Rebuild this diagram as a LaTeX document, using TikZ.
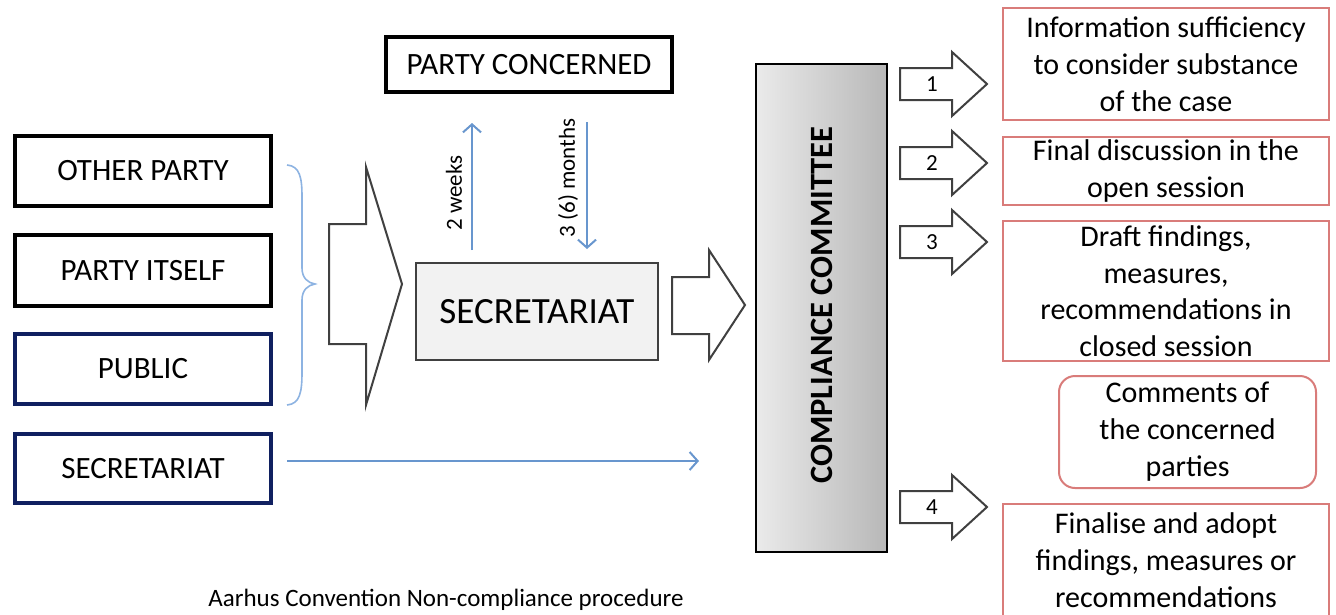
\documentclass[tikz,border=0pt]{standalone}
\usepackage{fontspec}
\setmainfont{Carlito}
\usetikzlibrary{arrows.meta,calc}
\definecolor{navy}{RGB}{16,32,96}
\definecolor{lblue}{RGB}{104,150,206}
\definecolor{bracecol}{RGB}{141,179,226}
\definecolor{redline}{RGB}{217,124,122}
\definecolor{arrgray}{RGB}{64,64,64}
\begin{document}
\begin{tikzpicture}[x=1pt,y=-1pt,
  every node/.style={inner sep=0pt, outer sep=0pt, align=center},
  blackbox/.style={draw=black, line width=4pt, fill=white, minimum width=256pt, minimum height=70pt, font=\fontsize{31}{34}\selectfont},
  navybox/.style={blackbox, draw=navy},
  redbox/.style={draw=redline, line width=2pt, fill=white, minimum width=326pt, font=\fontsize{30}{37}\selectfont},
  blockarrow/.style={draw=arrgray, line width=2pt, fill=white, line join=miter},
  bluearrow/.style={draw=lblue, line width=2pt, -{Straight Barb[length=8pt,width=18pt,line width=2pt]}},
  lbl/.style={font=\fontsize{23}{26}\selectfont, rotate=90}
]
\clip (0,0) rectangle (1336,614);
\fill[white] (0,0) rectangle (1336,614);

% left source boxes
\node[blackbox] (other) at (143,171) {OTHER PARTY};
\node[blackbox, minimum height=71pt] (itself) at (143,270.5) {PARTY ITSELF};
\node[navybox] (public) at (143,369) {PUBLIC};
\node[navybox, minimum height=69pt] (secL) at (143,468.5) {SECRETARIAT};

% brace
\draw[bracecol, line width=1.6pt] (287,165) .. controls (300,166) and (302,178) .. (302,197) -- (302,268)
  .. controls (302,278) and (308,283) .. (315,284)
  .. controls (308,285) and (302,290) .. (302,300) -- (302,372)
  .. controls (302,392) and (300,404) .. (287,405);

% big block arrow
\draw[blockarrow] (329,224) -- (366,224) -- (366,167) -- (402,284) -- (366,405) -- (366,344) -- (329,344) -- cycle;

% party concerned
\node[blackbox, minimum width=286pt, minimum height=55pt] (pc) at (529,64.5) {PARTY CONCERNED};

% central secretariat
\node[draw=arrgray, line width=2pt, fill=black!5, minimum width=242pt, minimum height=97pt,
  font=\fontsize{37}{42}\selectfont] (sec) at (537,311.5) {SECRETARIAT};

% thin arrows between secretariat and party concerned
\coordinate (ux) at (472,0);
\coordinate (dx) at (587,0);
\draw[bluearrow, shorten <=13pt, shorten >=31pt] (sec.north -| ux) -- (pc.south -| ux);
\draw[bluearrow, shorten <=30pt, shorten >=14pt] (pc.south -| dx) -- (sec.north -| dx);
\node[lbl] (wk) at (454,193) {2 weeks};
\node[lbl] (mo) at (568,178) {3 (6) months};

% arrow secretariat -> committee
\draw[blockarrow] (672,277) -- (709,277) -- (709,250) -- (745,305) -- (709,360) -- (709,334) -- (672,334) -- cycle;

% committee
\node[draw=black, line width=2.5pt, left color=black!8, right color=black!28,
  minimum width=131pt, minimum height=488pt] (cc) at (821.5,308) {};
\node[rotate=90, font=\bfseries\fontsize{32.5}{36}\selectfont] (cct) at (822,305) {COMPLIANCE COMMITTEE};

% secretariat (left) -> committee thin arrow
\coordinate (sEnd) at (699,461);
\coordinate (sStart) at (287,461);
\draw[bluearrow] (sStart) -- (sEnd);

% numbered arrows
\foreach \yy/\n in {84/1,163/2,242/3,507/4}{
  \draw[blockarrow] (900,\yy-16) -- (952,\yy-16) -- (952,\yy-32) -- (987,\yy) -- (952,\yy+32) -- (952,\yy+16) -- (900,\yy+16) -- cycle;
  \node[font=\fontsize{23}{25}\selectfont] (n\n) at (932,\yy) {\n};
}

% outcome boxes
\node[redbox, minimum height=112pt] (r1) at (1166,64) {Information sufficiency\\to consider substance\\of the case};
\node[redbox, minimum height=68pt] (r2) at (1166,171) {Final discussion in the\\open session};
\node[redbox, minimum height=140pt, font=\fontsize{30}{36.5}\selectfont] (r3) at (1166,291) {Draft findings,\\measures,\\recommendations in\\closed session};
\node[redbox, rounded corners=16pt, minimum width=257pt, minimum height=112pt] (r4) at (1187.5,432) {Comments of\\the concerned\\parties};
\node[redbox, minimum height=112pt] (r5) at (1166,560) {Finalise and adopt\\findings, measures or\\recommendations};

% caption
\node[font=\fontsize{25}{28}\selectfont] (cap) at (446,600) {Aarhus Convention Non-compliance procedure};
\end{tikzpicture}
\end{document}
